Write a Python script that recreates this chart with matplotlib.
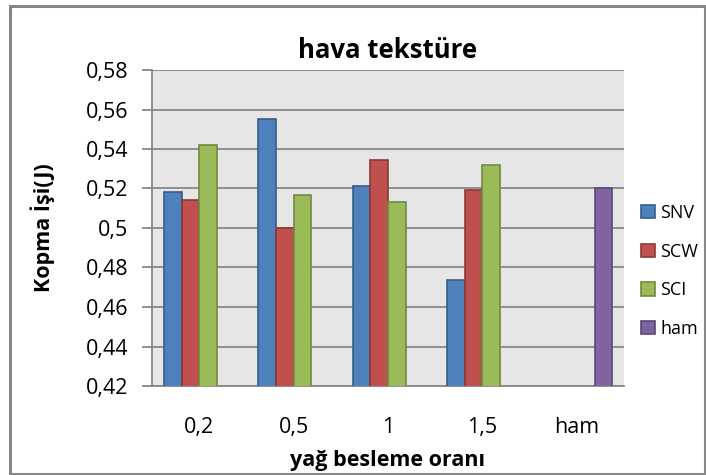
import numpy as np
import matplotlib.pyplot as plt
from matplotlib.patches import Rectangle
from matplotlib.ticker import FuncFormatter, MultipleLocator

plt.rcParams['font.family'] = ['Open Sans', 'DejaVu Sans']

categories = ['0,2', '0,5', '1', '1,5', 'ham']
series_names = ['SNV', 'SCW', 'SCI', 'ham']
snv = [0.5183, 0.5552, 0.5214, 0.4739, np.nan]
scw = [0.5140, 0.4998, 0.5342, 0.5192, np.nan]
sci = [0.5421, 0.5165, 0.5130, 0.5320, np.nan]
ham = [np.nan, np.nan, np.nan, np.nan, 0.5204]

fills = ['#4F81BD', '#C0504D', '#9BBB59', '#8064A2']
edges = ['#385D8A', '#8C3836', '#71893F', '#5C4776']

fig = plt.figure(figsize=(7.06, 4.75), dpi=100)
# outer chart border
fig.patches.append(Rectangle((10 / 706, 1 / 475), 695 / 706, 468 / 475,
                             transform=fig.transFigure, fill=False,
                             edgecolor='#878787', linewidth=2.2))

ax = fig.add_axes([152 / 706, 1 - 386 / 475, 472 / 706, 316 / 475])
ax.set_facecolor('#E6E6E6')

x = np.arange(len(categories))
w = 0.1875
for i, vals in enumerate([snv, scw, sci, ham]):
    ax.bar(x + (i - 1.5) * w, vals, width=w, color=fills[i],
           edgecolor=edges[i], linewidth=1.2, label=series_names[i], zorder=3)

ax.set_xlim(-0.5, len(categories) - 0.5)
ax.set_ylim(0.42, 0.58)
ax.yaxis.set_major_locator(MultipleLocator(0.02))
ax.yaxis.set_major_formatter(FuncFormatter(lambda v, p: f'{v:.2f}'.rstrip('0').replace('.', ',')))
ax.grid(axis='y', color='#878787', linewidth=1.3, zorder=1)
ax.set_axisbelow(True)

for s in ['top', 'right']:
    ax.spines[s].set_visible(False)
for s in ['left', 'bottom']:
    ax.spines[s].set_color('#878787')
    ax.spines[s].set_linewidth(1.3)

ax.set_xticks(x)
ax.set_xticklabels(categories)
ax.tick_params(axis='x', length=0, pad=22, labelsize=15.5)
ax.tick_params(axis='y', length=7, width=1.3, color='#878787', pad=10, labelsize=15.5)

ax.set_title('hava tekstüre', fontsize=18.5, fontweight='bold', pad=9)
ax.set_ylabel('Kopma İşi(J)', fontsize=15.5, fontweight='bold', labelpad=22)
ax.set_xlabel('yağ besleme oranı', fontsize=15.5, fontweight='bold', labelpad=9)

ax.legend(loc='center left', bbox_to_anchor=(1.01, 0.364), frameon=False,
          fontsize=13, handlelength=0.75, handleheight=0.75,
          handletextpad=0.3, labelspacing=1.15, borderpad=0.2)

fig.savefig('out.png', dpi=100)
